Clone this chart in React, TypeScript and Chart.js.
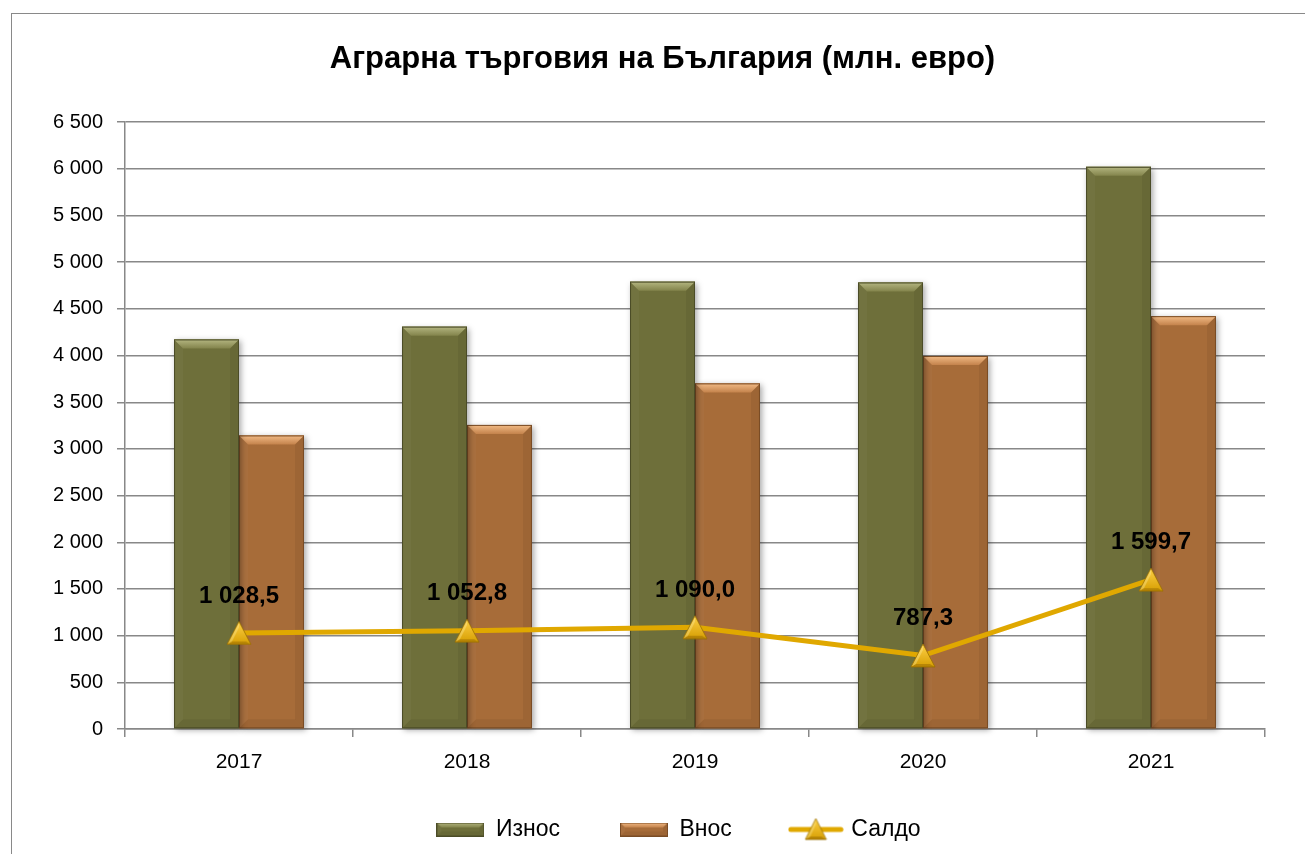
import React, { useEffect, useRef } from "react";
import { Chart, registerables } from "chart.js";

Chart.register(...registerables);

const years = ["2017", "2018", "2019", "2020", "2021"];
const exportValues = [4173, 4310, 4792, 4783, 6022];
const importValues = [3144.5, 3257.2, 3702.0, 3995.7, 4422.3];
const balanceValues = [1028.5, 1052.8, 1090.0, 787.3, 1599.7];
const seriesNames = ["Износ", "Внос", "Салдо"];
const titleText = "Аграрна търговия на България (млн. евро)";
const yMin = 0;
const yMax = 6500;
const yStep = 500;

const FONT = '"Liberation Sans Narrow", "Liberation Sans", Arial, sans-serif';

const palettes = [
  { main: "#6e6f3a", top1: "#b4b681", top2: "#83844c", outline: "#4b4c27" },
  { main: "#a76c39", top1: "#f2bb86", top2: "#c4834c", outline: "#7a4c25" },
];
const lineColor = "#e0a800";

const fmtThousands = (v: number) =>
  String(Math.round(v)).replace(/\B(?=(\d{3})+(?!\d))/g, " ");
const fmtBalance = (v: number) => {
  const [i, d] = v.toFixed(1).split(".");
  return i.replace(/\B(?=(\d{3})+(?!\d))/g, " ") + "," + d;
};

function makeTriangle(w: number, h: number): HTMLCanvasElement {
  const c = document.createElement("canvas");
  c.width = w + 2;
  c.height = h + 2;
  const ctx = c.getContext("2d")!;
  const ax = (w + 2) / 2, ay = 1, lx = 1, ly = h + 1, rx = w + 1, ry = h + 1;
  const g = ctx.createLinearGradient(0, 0, 0, h + 2);
  g.addColorStop(0, "#ffd24a");
  g.addColorStop(1, "#d59d00");
  ctx.fillStyle = g;
  ctx.beginPath();
  ctx.moveTo(ax, ay);
  ctx.lineTo(rx, ry);
  ctx.lineTo(lx, ly);
  ctx.closePath();
  ctx.fill();
  ctx.fillStyle = "rgba(120,80,0,0.35)";
  ctx.beginPath();
  ctx.moveTo(lx, ly);
  ctx.lineTo(rx, ry);
  ctx.lineTo(rx - 5, ry - 3);
  ctx.lineTo(lx + 5, ly - 3);
  ctx.closePath();
  ctx.fill();
  ctx.fillStyle = "rgba(255,240,170,0.35)";
  ctx.beginPath();
  ctx.moveTo(ax, ay);
  ctx.lineTo(lx, ly);
  ctx.lineTo(lx + 5, ly - 3);
  ctx.lineTo(ax, ay + 6);
  ctx.closePath();
  ctx.fill();
  ctx.strokeStyle = "#9a7000";
  ctx.lineWidth = 0.8;
  ctx.beginPath();
  ctx.moveTo(ax, ay);
  ctx.lineTo(rx, ry);
  ctx.lineTo(lx, ly);
  ctx.closePath();
  ctx.stroke();
  return c;
}

function drawBevelRect(
  ctx: CanvasRenderingContext2D,
  L: number,
  T: number,
  R: number,
  B: number,
  pal: { main: string; top1: string; top2: string; outline: string },
  b: number
) {
  ctx.save();
  const bb = Math.min(b, (B - T) / 2, (R - L) / 2);
  const g = ctx.createLinearGradient(0, T, 0, T + bb);
  g.addColorStop(0, pal.top1);
  g.addColorStop(1, pal.top2);
  ctx.fillStyle = g;
  ctx.beginPath();
  ctx.moveTo(L, T);
  ctx.lineTo(R, T);
  ctx.lineTo(R - bb, T + bb);
  ctx.lineTo(L + bb, T + bb);
  ctx.closePath();
  ctx.fill();
  ctx.fillStyle = "rgba(0,0,0,0.06)";
  ctx.beginPath();
  ctx.moveTo(R, T);
  ctx.lineTo(R, B);
  ctx.lineTo(R - bb, B - bb);
  ctx.lineTo(R - bb, T + bb);
  ctx.closePath();
  ctx.fill();
  ctx.fillStyle = "rgba(255,255,255,0.03)";
  ctx.beginPath();
  ctx.moveTo(L, T);
  ctx.lineTo(L + bb, T + bb);
  ctx.lineTo(L + bb, B - bb);
  ctx.lineTo(L, B);
  ctx.closePath();
  ctx.fill();
  ctx.fillStyle = "rgba(0,0,0,0.06)";
  ctx.beginPath();
  ctx.moveTo(L, B);
  ctx.lineTo(L + bb, B - bb);
  ctx.lineTo(R - bb, B - bb);
  ctx.lineTo(R, B);
  ctx.closePath();
  ctx.fill();
  ctx.strokeStyle = pal.outline;
  ctx.lineWidth = 1;
  ctx.strokeRect(L + 0.5, T + 0.5, R - L - 1, B - T - 1);
  ctx.restore();
}

function makeBarLegend(pal: any): HTMLCanvasElement {
  const c = document.createElement("canvas");
  c.width = 48;
  c.height = 14;
  const ctx = c.getContext("2d")!;
  ctx.fillStyle = pal.main;
  ctx.fillRect(0, 0, 48, 14);
  drawBevelRect(ctx, 0, 0, 48, 14, pal, 5);
  return c;
}

function makeLineLegend(tri: HTMLCanvasElement): HTMLCanvasElement {
  const c = document.createElement("canvas");
  c.width = 56;
  c.height = 24;
  const ctx = c.getContext("2d")!;
  ctx.strokeStyle = lineColor;
  ctx.lineWidth = 5;
  ctx.lineCap = "round";
  ctx.beginPath();
  ctx.moveTo(3, 12);
  ctx.lineTo(53, 12);
  ctx.stroke();
  ctx.drawImage(tri, (56 - tri.width) / 2, 0);
  return c;
}

export default function App() {
  const ref = useRef<HTMLCanvasElement | null>(null);

  useEffect(() => {
    if (!ref.current) return;
    const tri = makeTriangle(24, 23);
    const legendImgs = [
      makeBarLegend(palettes[0]),
      makeBarLegend(palettes[1]),
      makeLineLegend(makeTriangle(21, 21)),
    ];

    const barShadow = {
      id: "barShadow",
      beforeDatasetDraw(chart: any, args: any) {
        if (args.meta.type !== "bar") return;
        const ctx = chart.ctx;
        ctx.save();
        ctx.shadowColor = "rgba(0,0,0,0.35)";
        ctx.shadowBlur = 6;
        ctx.shadowOffsetX = 2;
        ctx.shadowOffsetY = 2;
        ctx.fillStyle = palettes[args.index].main;
        args.meta.data.forEach((el: any) => {
          const p = el.getProps(["x", "y", "base", "width"], true);
          ctx.fillRect(p.x - p.width / 2, Math.min(p.y, p.base), p.width, Math.abs(p.base - p.y));
        });
        ctx.restore();
      },
      afterDatasetDraw(chart: any, args: any) {
        if (args.meta.type !== "bar") return;
        const ctx = chart.ctx;
        args.meta.data.forEach((el: any) => {
          const p = el.getProps(["x", "y", "base", "width"], true);
          drawBevelRect(
            ctx,
            p.x - p.width / 2,
            Math.min(p.y, p.base),
            p.x + p.width / 2,
            Math.max(p.y, p.base),
            palettes[args.index],
            9
          );
        });
      },
    };

    const labelsPlugin = {
      id: "balanceLabels",
      afterDatasetsDraw(chart: any) {
        const meta = chart.getDatasetMeta(2);
        const ctx = chart.ctx;
        ctx.save();
        ctx.font = `bold 24px ${FONT}`;
        ctx.fillStyle = "#000";
        ctx.textAlign = "center";
        ctx.textBaseline = "middle";
        meta.data.forEach((pt: any, i: number) => {
          ctx.fillText(fmtBalance(balanceValues[i]), pt.x, pt.y - 37);
        });
        ctx.restore();
      },
    };

    const boxShift = {
      id: "boxShift",
      afterLayout(chart: any) {
        const lg = chart.legend;
        if (lg) {
          lg.left += 40;
          lg.right += 40;
          lg.top -= 31;
        }
        const tt = chart.titleBlock;
        if (tt) {
          tt.left += 24;
          tt.right += 24;
        }
      },
    };

    const chart = new Chart(ref.current, {
      type: "bar",
      data: {
        labels: years,
        datasets: [
          {
            type: "bar",
            label: seriesNames[0],
            data: exportValues,
            backgroundColor: palettes[0].main,
            borderWidth: 0,
            categoryPercentage: 0.57,
            barPercentage: 1,
            order: 1,
          },
          {
            type: "bar",
            label: seriesNames[1],
            data: importValues,
            backgroundColor: palettes[1].main,
            borderWidth: 0,
            categoryPercentage: 0.57,
            barPercentage: 1,
            order: 1,
          },
          {
            type: "line",
            label: seriesNames[2],
            data: balanceValues,
            borderColor: lineColor,
            borderWidth: 5,
            pointStyle: tri as any,
            pointRadius: 13,
            tension: 0,
            order: 0,
          } as any,
        ],
      },
      options: {
        animation: false,
        responsive: true,
        maintainAspectRatio: false,
        layout: { padding: { left: 0, right: 47, top: 0, bottom: 0 } },
        plugins: {
          tooltip: { enabled: false },
          title: {
            display: true,
            text: titleText,
            color: "#000",
            font: { family: FONT, size: 31, weight: "bold" },
            padding: { top: 27, bottom: 44 },
          },
          legend: {
            position: "bottom",
            maxHeight: 65,
            labels: {
              usePointStyle: true,
              pointStyleWidth: 48,
              padding: 60,
              color: "#000",
              font: { family: FONT, size: 23 },
              generateLabels: (ch: any) =>
                ch.data.datasets.map((ds: any, i: number) => ({
                  text: ds.label,
                  pointStyle: legendImgs[i],
                  fillStyle: "transparent",
                  strokeStyle: "transparent",
                  lineWidth: 0,
                  hidden: false,
                  datasetIndex: i,
                  fontColor: "#000",
                })),
            },
          },
        },
        scales: {
          x: {
            grid: {
              display: true,
              drawOnChartArea: false,
              drawTicks: true,
              tickLength: 8,
              color: "#888",
              lineWidth: 1.5,
              offset: true,
            },
            border: { display: true, color: "#888", width: 1.5 },
            ticks: {
              color: "#000",
              padding: 13,
              font: { family: FONT, size: 21 },
            },
            afterFit: (s: any) => {
              s.height = 60;
            },
          },
          y: {
            min: yMin,
            max: yMax,
            grid: {
              color: "#888",
              lineWidth: 1.5,
              drawTicks: true,
              tickLength: 8,
            },
            border: { display: true, color: "#888", width: 1.5 },
            ticks: {
              stepSize: yStep,
              color: "#000",
              padding: 14,
              font: { family: FONT, size: 20 },
              callback: (v: any) => fmtThousands(Number(v)),
            },
            afterFit: (s: any) => {
              s.width = 113;
            },
          },
        },
      },
      plugins: [barShadow, labelsPlugin, boxShift],
    });

    return () => chart.destroy();
  }, []);

  return (
    <div
      style={{
        position: "fixed",
        left: 11,
        top: 13,
        width: 1300,
        height: 840,
        borderTop: "1px solid #898989",
        borderLeft: "1px solid #898989",
        background: "#fff",
      }}
    >
      <canvas ref={ref} />
    </div>
  );
}
